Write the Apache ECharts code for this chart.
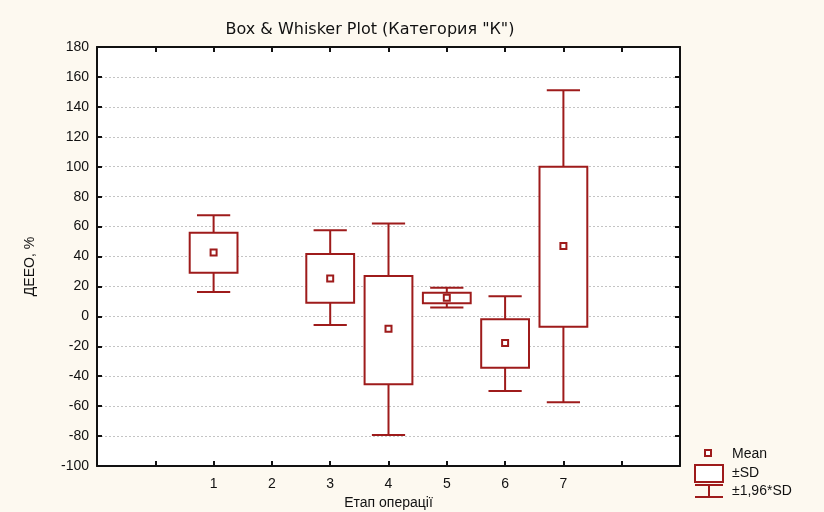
<!DOCTYPE html>
<html>
<head>
<meta charset="utf-8">
<script src="https://cdn.jsdelivr.net/npm/echarts@6/dist/echarts.min.js"></script>
<style>
html,body{margin:0;padding:0;background:#fdf9f0;}
#c{width:824px;height:512px;}
</style>
</head>
<body>
<div id="c"></div>
<script>
var stages = [1, 3, 4, 5, 6, 7];
var tickLabels = ['1', '2', '3', '4', '5', '6', '7'];
var means  = [42.6, 25.3, -8.3, 12.4, -17.8, 47.1];
var sdLow  = [29.1, 9.1, -45.4, 8.7, -34.3, -7.0];
var sdHigh = [55.8, 41.6, 26.9, 15.7, -2.0, 99.9];
var ciLow  = [16.2, -5.8, -79.3, 6.0, -49.9, -57.4];
var ciHigh = [67.6, 57.6, 62.1, 19.1, 13.5, 151.1];

var RED = '#9e1b1b';
var FONT = 'Liberation Sans, Arial, sans-serif';
var TCOL = '#111111';

var data = stages.map(function (s, i) {
  return [s, ciLow[i], sdLow[i], means[i], sdHigh[i], ciHigh[i]];
});

function renderItem(params, api) {
  var x = api.value(0);
  var pWL = api.coord([x, api.value(1)]);
  var pBL = api.coord([x, api.value(2)]);
  var pM = api.coord([x, api.value(3)]);
  var pBH = api.coord([x, api.value(4)]);
  var pWH = api.coord([x, api.value(5)]);
  var unit = api.size([1, 0])[0];
  var bw = unit * 0.41;
  var cw = unit * 0.285;
  var cx = pM[0];
  var ls = {stroke: RED, lineWidth: 2, fill: null};
  return {
    type: 'group',
    children: [
      {type: 'line', shape: {x1: cx, y1: pWH[1], x2: cx, y2: pBH[1]}, style: ls},
      {type: 'line', shape: {x1: cx, y1: pBL[1], x2: cx, y2: pWL[1]}, style: ls},
      {type: 'line', shape: {x1: cx - cw, y1: pWH[1], x2: cx + cw, y2: pWH[1]}, style: ls},
      {type: 'line', shape: {x1: cx - cw, y1: pWL[1], x2: cx + cw, y2: pWL[1]}, style: ls},
      {type: 'rect', shape: {x: cx - bw, y: pBH[1], width: 2 * bw, height: pBL[1] - pBH[1]},
        style: {stroke: RED, lineWidth: 2, fill: '#ffffff'}},
      {type: 'rect', shape: {x: cx - 3, y: pM[1] - 3, width: 6, height: 6},
        style: {stroke: RED, lineWidth: 2, fill: '#ffffff'}}
    ]
  };
}

var chart = echarts.init(document.getElementById('c'));
var axisLine = {show: true, onZero: false, lineStyle: {color: '#111', width: 2}};
var tick = {show: true, inside: true, length: 5, lineStyle: {color: '#111', width: 2}};
chart.setOption({
  backgroundColor: '#fdf9f0',
  animation: false,
  title: {
    text: 'Box & Whisker Plot (Категория "К")',
    left: 365, top: 17, textAlign: 'center',
    textStyle: {fontFamily: 'DejaVu Sans, sans-serif', fontSize: 16, fontWeight: 'normal', color: TCOL}
  },
  grid: {left: 97, top: 47, right: 144, bottom: 46, show: true, backgroundColor: '#ffffff', borderWidth: 0,
    containLabel: false, outerBoundsMode: 'none'},
  xAxis: [{
    type: 'value', min: -1, max: 9, interval: 1, position: 'bottom',
    name: 'Етап операції', nameLocation: 'middle', nameGap: 30,
    nameTextStyle: {fontFamily: FONT, fontSize: 14, color: TCOL},
    axisLine: axisLine, axisTick: tick,
    axisLabel: {fontFamily: FONT, fontSize: 14, color: TCOL, margin: 11,
      formatter: function (v) { return (v >= 1 && v <= 7) ? tickLabels[v - 1] : ''; }},
    splitLine: {show: false}
  }, {
    type: 'value', min: -1, max: 9, interval: 1, position: 'top',
    axisLine: axisLine, axisTick: tick,
    axisLabel: {show: false}, splitLine: {show: false}
  }],
  yAxis: [{
    type: 'value', min: -100, max: 180, interval: 20, position: 'left',
    name: 'ДЕЕО, %', nameLocation: 'middle', nameGap: 60, nameRotate: 90,
    nameTextStyle: {fontFamily: FONT, fontSize: 14, color: TCOL, padding: [0, 0, 0, -20]},
    axisLine: axisLine, axisTick: tick,
    axisLabel: {fontFamily: FONT, fontSize: 14, color: TCOL, margin: 8},
    splitLine: {show: true, lineStyle: {color: '#c4c4c4', type: [2, 2], width: 1}}
  }, {
    type: 'value', min: -100, max: 180, interval: 20, position: 'right',
    axisLine: axisLine, axisTick: tick,
    axisLabel: {show: false}, splitLine: {show: false}
  }],
  series: [{
    type: 'custom',
    xAxisIndex: 0, yAxisIndex: 0,
    renderItem: renderItem,
    encode: {x: 0, y: [1, 2, 3, 4, 5]},
    data: data,
    clip: false
  }],
  graphic: [
    {type: 'rect', shape: {x: 705, y: 450, width: 6, height: 6}, style: {stroke: RED, lineWidth: 2, fill: '#ffffff'}},
    {type: 'rect', shape: {x: 695, y: 465, width: 28, height: 17}, style: {stroke: RED, lineWidth: 2, fill: '#ffffff'}},
    {type: 'line', shape: {x1: 695, y1: 485, x2: 723, y2: 485}, style: {stroke: RED, lineWidth: 2}},
    {type: 'line', shape: {x1: 709, y1: 485, x2: 709, y2: 497}, style: {stroke: RED, lineWidth: 2}},
    {type: 'line', shape: {x1: 695, y1: 497, x2: 723, y2: 497}, style: {stroke: RED, lineWidth: 2}},
    {type: 'text', x: 732, y: 454, style: {text: 'Mean', fontFamily: FONT, fontSize: 14, fill: TCOL, textVerticalAlign: 'middle'}},
    {type: 'text', x: 732, y: 473, style: {text: '±SD', fontFamily: FONT, fontSize: 14, fill: TCOL, textVerticalAlign: 'middle'}},
    {type: 'text', x: 732, y: 491, style: {text: '±1,96*SD', fontFamily: FONT, fontSize: 14, fill: TCOL, textVerticalAlign: 'middle'}}
  ]
});
</script>
</body>
</html>
